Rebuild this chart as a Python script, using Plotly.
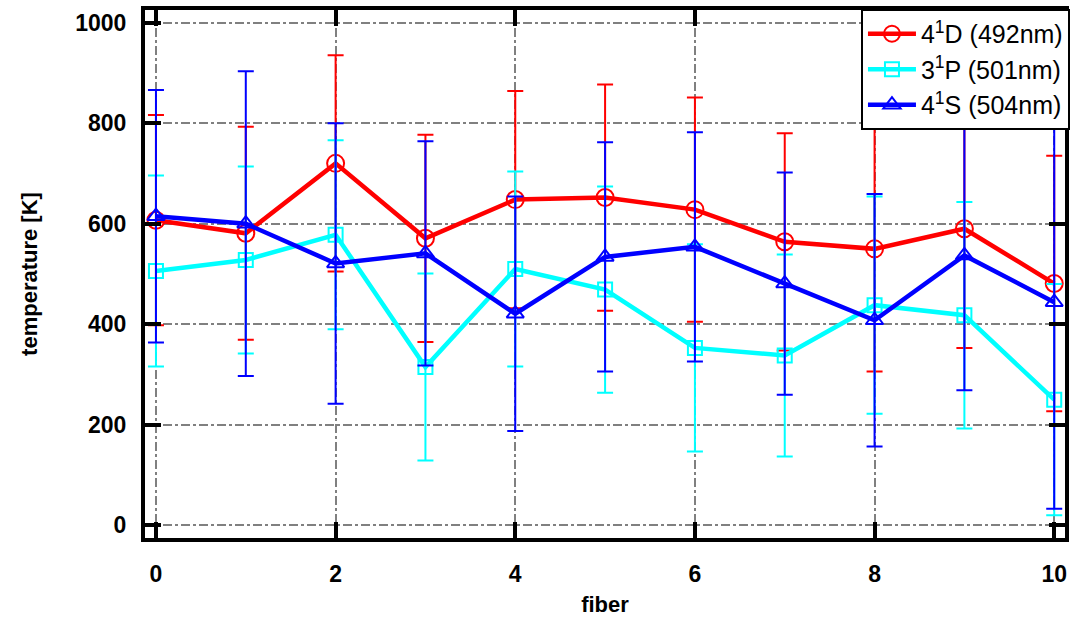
import plotly.graph_objects as go

fiber = list(range(11))

d_name = "4<sup>1</sup>D (492nm)"
d_temp = [607, 581, 720, 571, 648, 652, 628, 564, 550, 590, 481]
d_err = [209, 212, 215, 206, 216, 225, 223, 216, 244, 237, 254]

p_name = "3<sup>1</sup>P (501nm)"
p_temp = [506, 528, 578, 315, 510, 469, 353, 338, 438, 418, 250]
p_err = [190, 186, 188, 186, 194, 205, 206, 201, 216, 225, 230]

s_name = "4<sup>1</sup>S (504nm)"
s_temp = [615, 600, 521, 541, 421, 534, 554, 481, 408, 537, 444]
s_err = [251, 303, 279, 223, 233, 228, 228, 221, 251, 268, 411]

x_ticks = [0, 2, 4, 6, 8, 10]
y_ticks = [0, 200, 400, 600, 800, 1000]

series = [
    (d_name, d_temp, d_err, "#FF0000", "circle-open", 17),
    (p_name, p_temp, p_err, "#00FFFF", "square-open", 14),
    (s_name, s_temp, s_err, "#0000FF", "triangle-up-open", 15),
]

fig = go.Figure()
for name, y, e, c, sym, sz in series:
    fig.add_trace(go.Scatter(
        x=fiber, y=y, name=name, mode="lines+markers",
        line=dict(color=c, width=4.5),
        marker=dict(symbol=sym, size=sz, color=c, line=dict(color=c, width=2)),
        error_y=dict(type="data", array=e, visible=True, color=c, thickness=2, width=8),
    ))

axis_common = dict(
    showline=True, linecolor="black", linewidth=4, mirror="allticks",
    ticks="inside", ticklen=16, tickwidth=4, tickcolor="black",
    showgrid=True, gridcolor="#808080", gridwidth=1.5, griddash="dashdot",
    zeroline=False, automargin=False,
    tickfont=dict(family="Liberation Sans", size=23, color="black", weight="bold"),
)

fig.update_xaxes(
    range=[-0.122, 10.12], tickvals=x_ticks, ticklabelstandoff=12,
    title=dict(text="fiber", font=dict(family="Liberation Sans", size=22, color="black", weight="bold"), standoff=16),
    **axis_common,
)
fig.update_yaxes(
    range=[-25, 1025], tickvals=y_ticks, ticklabelstandoff=10,
    title=dict(text="temperature [K]", font=dict(family="Liberation Sans", size=22, color="black", weight="bold"), standoff=33),
    **axis_common,
)

fig.update_layout(
    width=1072, height=617,
    margin=dict(l=145, r=7, t=10, b=79, autoexpand=False),
    paper_bgcolor="white", plot_bgcolor="white",
    showlegend=True,
    legend=dict(
        x=1.0054, y=1.0019, xanchor="right", yanchor="top",
        bgcolor="white", bordercolor="black", borderwidth=2,
        font=dict(family="Liberation Sans", size=25, color="black"),
        itemwidth=48, tracegroupgap=0,
    ),
)

fig.write_html("out.html")
